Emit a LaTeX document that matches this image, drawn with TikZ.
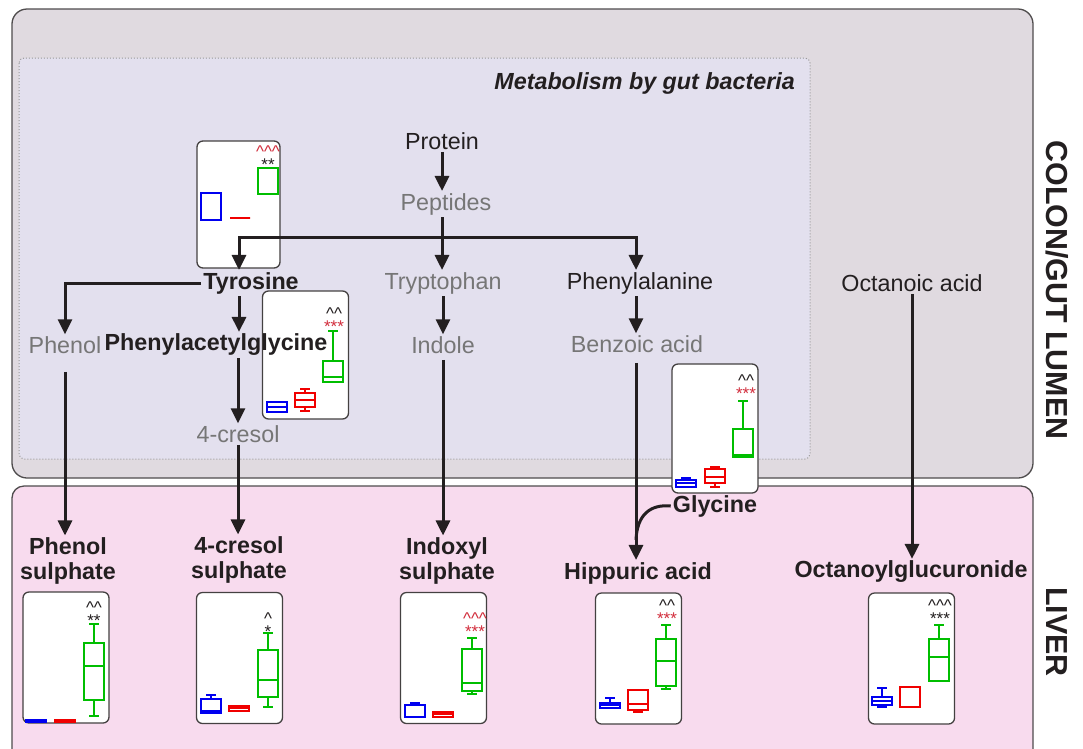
\documentclass[tikz,border=0pt]{standalone}
\usepackage{fontspec}
\setmainfont{Liberation Sans}
\usetikzlibrary{arrows.meta}

\definecolor{colonfill}{RGB}{224,218,224}
\definecolor{gutfill}{RGB}{227,224,238}
\definecolor{liverfill}{RGB}{248,219,238}
\definecolor{ink}{RGB}{35,31,32}
\definecolor{paleink}{RGB}{118,118,118}
\definecolor{ctlblue}{RGB}{0,0,240}
\definecolor{midred}{RGB}{240,0,0}
\definecolor{highgreen}{RGB}{0,190,0}
\definecolor{sigred}{RGB}{210,45,60}

% one box: colour, left x, top whisker, box top, median, box bottom, low whisker
\newcommand{\bxp}[7]{%
    \draw[#1, line width=2pt] (#2+10,#3) -- (#2+10,#4) (#2+10,#6) -- (#2+10,#7)
        (#2+5,#3) -- (#2+15,#3) (#2+5,#7) -- (#2+15,#7);
    \draw[#1, line width=2pt] (#2,#4) rectangle (#2+20,#6) (#2,#5) -- (#2+20,#5);
}
\newcommand{\hats}[1]{\textasciicircum\ifnum#1>1 \textasciicircum\fi\ifnum#1>2 \textasciicircum\fi}

\begin{document}
\begin{tikzpicture}[x=1pt, y=-1pt,
    lbl/.style={font=\fontsize{23.3}{26}\selectfont, text=ink, inner sep=2pt},
    pale/.style={lbl, text=paleink},
    key/.style={lbl, font=\fontsize{23.3}{25}\selectfont\bfseries, align=center},
    side/.style={font=\fontsize{30.4}{32}\selectfont\bfseries, text=ink,
        rotate=-90},
    panel/.style={draw=ink!85, line width=1.3pt, fill=white,
        rounded corners=6pt, minimum width=86pt, minimum height=131pt,
        inner sep=0pt},
    sig/.style={font=\fontsize{17}{11}\selectfont, inner sep=0pt, align=center},
    arrow/.style={-{Triangle[length=15pt,width=14pt]}, line width=3pt,
        draw=ink},
    link/.style={line width=3pt, draw=ink}
]
    \useasboundingbox (0,0) rectangle (1083,748);
    \begin{scope}
        \clip (0,0) rectangle (1083,748);
        \draw[fill=colonfill, draw=ink!80, line width=1.3pt,
            rounded corners=15pt] (12,9) rectangle (1033,478);
        \draw[fill=liverfill, draw=ink!80, line width=1.3pt,
            rounded corners=12pt] (12,486) rectangle (1033,775);
    \end{scope}
    \draw[fill=gutfill, draw=gray!80, dotted, line width=1pt,
        rounded corners=5pt] (19,58) rectangle (810,459);

    \node[lbl, font=\fontsize{23.3}{26}\selectfont\bfseries\itshape,
        anchor=east] (gutlabel) at (797,83) {Metabolism by gut bacteria};
    \node[side] (colon) at (1057,290) {COLON/GUT LUMEN};
    \node[side] (liver) at (1057,632) {LIVER};

    % panels
    \node[panel, minimum width=83pt, minimum height=127pt] (tyrpanel)
        at (238.5,204.5) {};
    \node[panel, minimum height=128pt] (pagpanel) at (305.5,355) {};
    \node[panel, minimum height=129pt] (glypanel) at (715,428.5) {};
    \node[panel] (phspanel) at (66,657.5) {};
    \node[panel] (crspanel) at (239.5,658) {};
    \node[panel] (indpanel) at (443.5,658) {};
    \node[panel] (hippanel) at (638.5,658.5) {};
    \node[panel] (octpanel) at (911.5,658.5) {};

    % box plots
    \bxp{ctlblue}{201}{193}{193}{193}{220}{220}
    \bxp{midred}{230}{218}{218}{218}{218}{218}
    \bxp{highgreen}{258}{168}{168}{168}{194}{194}

    \bxp{ctlblue}{267}{402}{402}{407}{412}{412}
    \bxp{midred}{295}{389}{393}{400}{407}{411}
    \bxp{highgreen}{323}{331}{361}{377}{382}{382}

    \bxp{ctlblue}{676}{478}{480}{483}{487}{487}
    \bxp{midred}{705}{467}{469}{477}{483}{487}
    \bxp{highgreen}{733}{401}{429}{455}{457}{457}

    \bxp{ctlblue}{26}{720}{720}{720}{722}{722}
    \bxp{midred}{55}{720}{720}{720}{722}{722}
    \bxp{highgreen}{84}{624}{643}{666}{700}{716}

    \bxp{ctlblue}{201}{695}{699}{711}{713}{713}
    \bxp{midred}{229}{706}{706}{708}{711}{711}
    \bxp{highgreen}{258}{633}{650}{680}{697}{707}

    \bxp{ctlblue}{405}{703}{705}{717}{717}{717}
    \bxp{midred}{433}{712}{712}{714}{717}{717}
    \bxp{highgreen}{462}{638}{649}{683}{691}{694}

    \bxp{ctlblue}{600}{698}{703}{705}{708}{708}
    \bxp{midred}{628}{690}{690}{704}{710}{712}
    \bxp{highgreen}{656}{625}{639}{661}{686}{689}

    \bxp{ctlblue}{872}{688}{697}{701}{705}{707}
    \bxp{midred}{900}{687}{687}{687}{707}{707}
    \bxp{highgreen}{929}{625}{639}{657}{681}{681}

    % significance marks
    \node[sig] (tyrsig) at (268,158) {\textcolor{sigred}{\hats3}\\\textcolor{ink}{**}};
    \node[sig] (pagsig) at (334,320) {\textcolor{ink}{\hats2}\\\textcolor{sigred}{***}};
    \node[sig] (glysig) at (746,387) {\textcolor{ink}{\hats2}\\\textcolor{sigred}{***}};
    \node[sig] (phssig) at (94,614) {\textcolor{ink}{\hats2}\\\textcolor{ink}{**}};
    \node[sig] (crssig) at (268,625) {\textcolor{ink}{\hats1}\\\textcolor{ink}{*}};
    \node[sig] (indsig) at (475,625) {\textcolor{sigred}{\hats3}\\\textcolor{sigred}{***}};
    \node[sig] (hipsig) at (667,612) {\textcolor{ink}{\hats2}\\\textcolor{sigred}{***}};
    \node[sig] (octsig) at (940,612) {\textcolor{ink}{\hats3}\\\textcolor{ink}{***}};

    % gut metabolites
    \node[lbl] (protein) at (442,141) {Protein};
    \node[pale] (peptides) at (446,204) {Peptides};
    \node[key] (tyr) at (251,283) {Tyrosine};
    \node[pale] (trp) at (443,283) {Tryptophan};
    \node[lbl] (phe) at (640,283) {Phenylalanine};
    \node[pale] (phenol) at (65,345) {Phenol};
    \node[key] (pag) at (216,345) {Phenylacetylglycine};
    \node[pale] (indole) at (443,345) {Indole};
    \node[pale] (benz) at (637,344) {Benzoic acid};
    \node[pale] (cresol) at (238,434) {4-cresol};
    \node[lbl] (octacid) at (912,283) {Octanoic acid};

    % liver metabolites
    \node[key] (gly) at (715,506) {Glycine};
    \node[key] (phs) at (68,561) {Phenol\\sulphate};
    \node[key] (crs) at (239,560) {4-cresol\\sulphate};
    \node[key] (ind) at (447,561) {Indoxyl\\sulphate};
    \node[key] (hip) at (638,573) {Hippuric acid};
    \node[key] (oct) at (911,572) {Octanoylglucuronide};

    \coordinate (split) at (442,237);
    \coordinate (hipjoin) at (636,540);

    \draw[arrow] (protein.south) -- (protein.south |- peptides.north);
    \draw[arrow] (peptides.south -| protein) -- (trp.north -| protein);
    \draw[arrow] (split) -| ([xshift=-12pt]tyr.north);
    \draw[arrow] (split) -| ([xshift=-4pt]phe.north);
    \draw[arrow] (tyr.west) -| (phenol.north);
    \draw[arrow] ([xshift=-12pt]tyr.south) -- ([xshift=-12pt]tyr.south |- pag.north);
    \draw[arrow] (pag.south -| cresol) -- (cresol);
    \draw[arrow] (trp) -- (indole);
    \draw[arrow] ([xshift=-4pt]phe.south) -- ([xshift=-4pt]phe.south |- benz.north);
    \draw[arrow, shorten <=16pt] (phenol.south) -- (phenol.south |- phs.north);
    \draw[arrow] (cresol) -- (cresol |- crs.north);
    \draw[arrow, shorten <=4pt] (indole.south) -- (indole.south |- ind.north);
    \draw[arrow, shorten <=8pt] ([xshift=-1pt]benz.south) -- ([xshift=-1pt]benz.south |- hip.north);
    \draw[link] (gly.west) .. controls (650,504) and (637,515) .. (hipjoin);
    \draw[arrow] (octacid) -- (octacid |- oct.north);
\end{tikzpicture}
\end{document}
